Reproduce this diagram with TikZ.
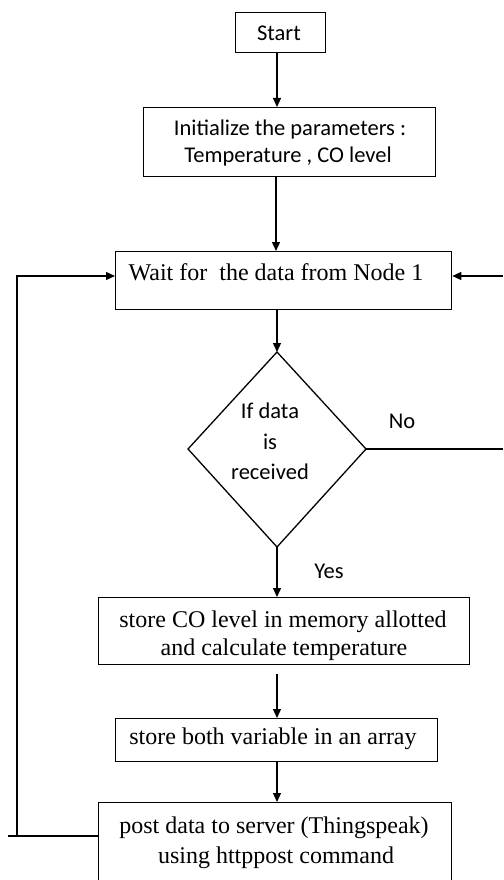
\documentclass[tikz,border=0pt]{standalone}
\usepackage{fontspec}
\setmainfont{Liberation Serif}
\newfontfamily\calib{Carlito}
\usetikzlibrary{arrows.meta}
\begin{document}
\begin{tikzpicture}[x=1pt,y=-1pt,
  box/.style={draw, line width=1.3pt, rectangle, inner sep=0pt, anchor=north west},
  stxt/.style={font=\calib\fontsize{22.5}{26}\selectfont, inner sep=0pt},
  rtxt/.style={font=\fontsize{24}{28}\selectfont, inner sep=0pt},
  flow/.style={line width=1.3pt, -{Triangle[length=9pt,width=8pt]}},
  plain/.style={line width=1.3pt}]
\clip (0,0) rectangle (503,880);
\fill[white] (0,0) rectangle (503,880);

% boxes
\node[box, minimum width=90pt, minimum height=40pt] (start) at (235,12) {};
\node[box, minimum width=292pt, minimum height=69pt] (init) at (143,107) {};
\node[box, minimum width=336pt, minimum height=58pt] (wait) at (115,251) {};
\coordinate (dtop) at (277,352);
\coordinate (dbot) at (277,547);
\coordinate (dleft) at (188,449);
\coordinate (dright) at (366,449);
\draw[line width=1.3pt] (dtop) -- (dright) -- (dbot) -- (dleft) -- cycle;
\node[box, minimum width=371pt, minimum height=67pt] (store) at (98,597) {};
\node[box, minimum width=322pt, minimum height=43pt] (arr) at (115,718) {};
\node[box, minimum width=353pt, minimum height=90pt] (post) at (98,802) {};

% texts
\node[stxt] (tstart) at (279,33) {Start};
\node[stxt] (tinit1) at (290,130) {Initialize the parameters :};
\node[stxt] (tinit2) at (288,157) {Temperature , CO level};
\node[rtxt] (twait) at (276,272) {Wait for\ \ the data from Node 1};
\node[stxt] (td1) at (270,411) {If data};
\node[stxt] (td2) at (270,442) {is};
\node[stxt] (td3) at (270,472) {received};
\node[stxt] (tno) at (402,421) {No};
\node[stxt] (tyes) at (329,571) {Yes};
\node[rtxt] (tst1) at (283,622) {store CO level in memory allotted};
\node[rtxt] (tst2) at (284,650) {and calculate temperature};
\node[rtxt] (tarr) at (273,739) {store both variable in an array};
\node[rtxt] (tpost1) at (274,828) {post data to server (Thingspeak)};
\node[rtxt] (tpost2) at (276,858) {using httppost command};

% connectors
\draw[flow] (start.south -| 277,0) -- (init.north -| 277,0);
\draw[flow] (init.south -| 276,0) -- (wait.north -| 276,0);
\draw[flow] (wait.south -| 277,0) -- (dtop);
\draw[flow] (dbot) -- (store.north -| 277,0);
\coordinate (sgap) at (277,674);
\draw[flow] (sgap) -- (arr.north -| 277,0);
\draw[flow] (arr.south -| 277,0) -- (post.north -| 277,0);

% No branch
\coordinate (rfar) at (503,449);
\coordinate (rtop) at (503,276);
\draw[plain] (dright) -- (rfar);
\draw[flow] (rtop) -- (wait.east |- rtop);

% loop back
\coordinate (lb) at (17,836);
\coordinate (lstub) at (8,836);
\coordinate (lt) at (17,276);
\draw[plain] (lstub) -- (post.west |- lb);
\draw[flow] (lb) -- (lt) -- (wait.west |- lt);
\end{tikzpicture}
\end{document}
